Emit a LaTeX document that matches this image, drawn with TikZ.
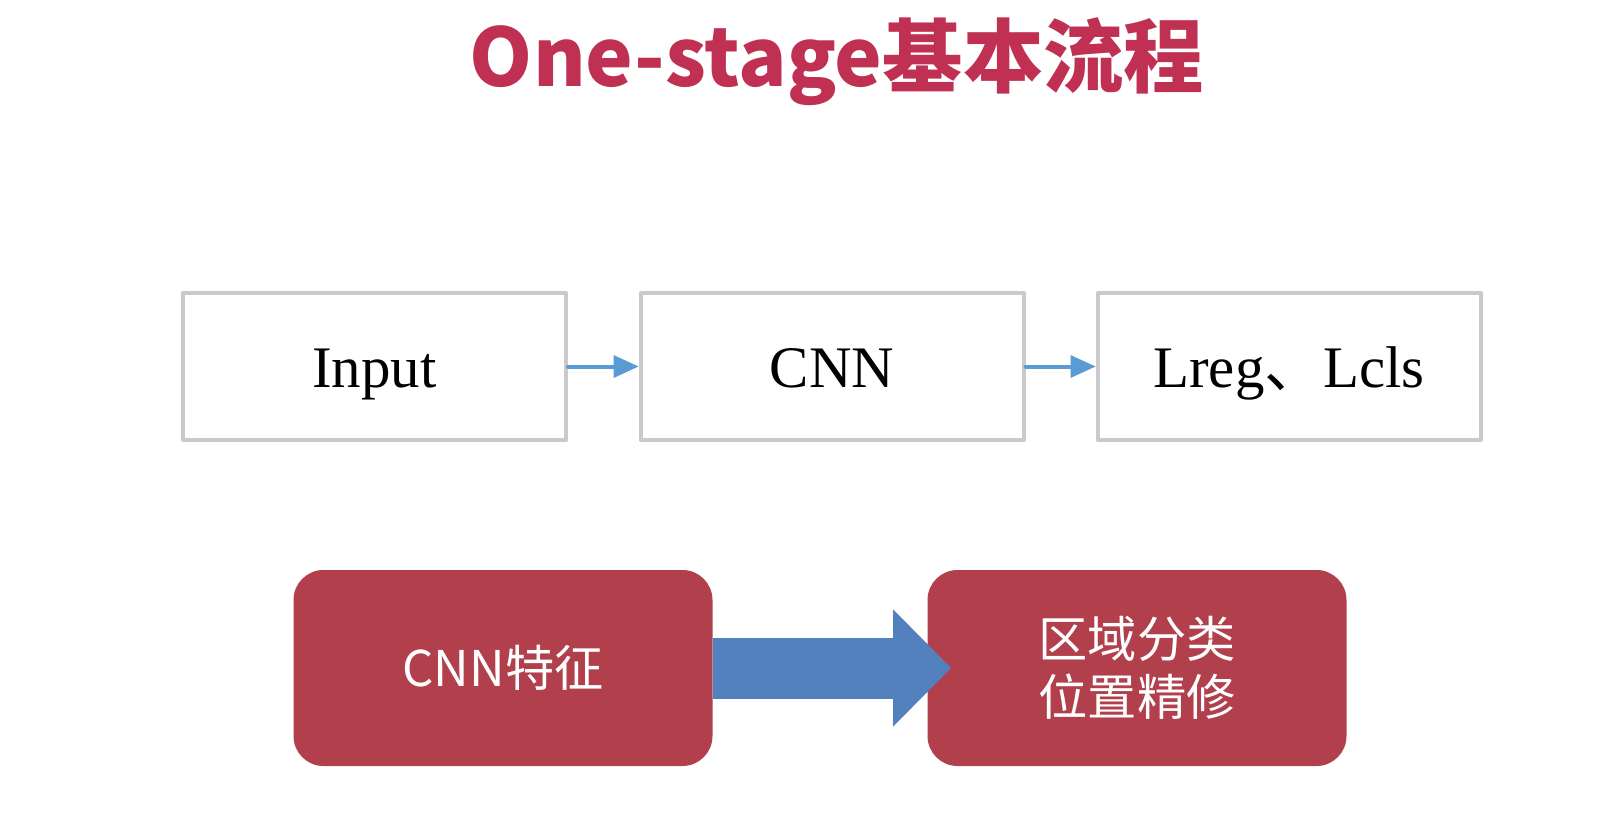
\documentclass[tikz,border=0pt]{standalone}
\usepackage{fontspec}
\setmainfont{Liberation Serif}
\newfontfamily\cjk{Noto Sans CJK SC}
\usetikzlibrary{arrows.meta}

\definecolor{titlered}{RGB}{192,48,82}
\definecolor{boxred}{RGB}{178,64,76}
\definecolor{boxgray}{RGB}{202,202,204}
\definecolor{thinblue}{RGB}{91,155,213}
\definecolor{fatblue}{RGB}{82,129,190}

\begin{document}
\begin{tikzpicture}[
    line cap=round,
    line join=round,
    plainbox/.style={
        draw=boxgray,
        line width=0.08cm,
        fill=white,
        minimum width=7.66cm,
        minimum height=2.94cm,
        inner sep=0pt,
        text height=32pt,
        text depth=7.6pt,
        font=\fontsize{33.5}{40}\selectfont
    },
    redbox/.style={
        fill=boxred,
        rounded corners=0.6cm,
        text=white,
        align=center,
        minimum width=8.38cm,
        minimum height=3.92cm,
        inner sep=0pt,
        font=\cjk\fontsize{28}{33}\selectfont
    },
    thinarrow/.style={
        draw=thinblue,
        line width=0.08cm,
        -{Triangle[length=0.5cm,width=0.46cm,line width=0pt]}
    },
    fatarrow/.style={
        draw=fatblue,
        line width=1.22cm,
        line cap=butt,
        -{Triangle[length=1.16cm,width=2.34cm,line width=0pt]}
    }
]

% =========================================================
% Размеры листа
% =========================================================

\def\W{32}      % ширина
\def\Ht{16.74}  % высота
\def\rowy{-7.33}  % ось верхнего ряда
\def\boty{-13.36} % ось нижнего ряда

\fill[white] (0,0) rectangle (\W,-\Ht);
\useasboundingbox (0,0) rectangle (\W,-\Ht);

% =========================================================
% Заголовок
% =========================================================

\node[anchor=base, text=titlered,
      font=\cjk\bfseries\fontsize{45.7}{55}\selectfont]
    (title) at (16.74,-1.72) {One-stage基本流程};

% =========================================================
% Верхний ряд
% =========================================================

\node[plainbox] (input) at (7.49,\rowy) {Input};
\node[plainbox] (cnn)   at (16.64,\rowy) {CNN};
\node[plainbox] (loss)  at (25.78,\rowy) {Lreg{\cjk 、}Lcls};

\draw[thinarrow] (input.east) -- (cnn.west);
\draw[thinarrow] (cnn.east) -- (loss.west);

% =========================================================
% Нижний ряд
% =========================================================

\node[redbox] (feat) at (10.06,\boty) {CNN特征};
\node[redbox] (cls)  at (22.74,\boty) {区域分类\\位置精修};

\draw[fatarrow] (feat.east) -- ([xshift=0.48cm]cls.west);

\end{tikzpicture}
\end{document}
